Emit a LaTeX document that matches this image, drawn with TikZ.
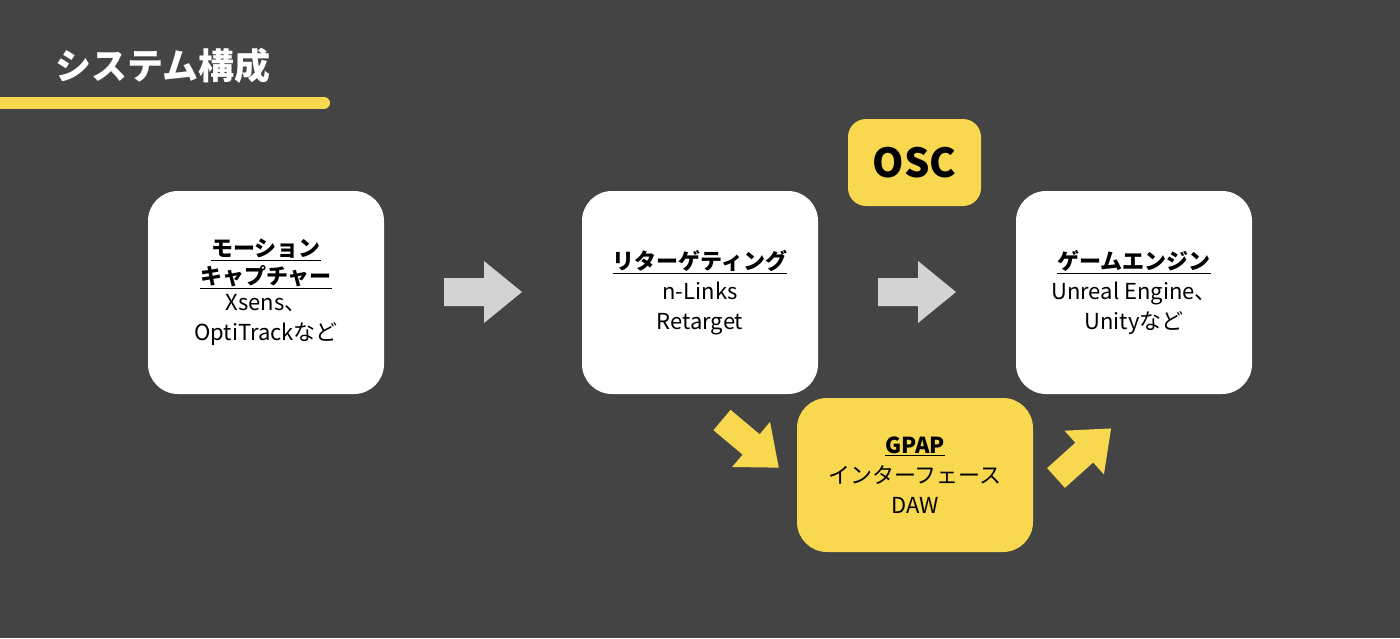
\documentclass[tikz,border=0pt]{standalone}
\usepackage{fontspec}
\setmainfont{Noto Sans CJK JP}
\definecolor{bg}{HTML}{444444}
\definecolor{yel}{HTML}{F7D84E}
\definecolor{gr}{HTML}{D3D3D3}
\begin{document}
\begin{tikzpicture}[x=1pt,y=-1pt,
  box/.style={fill=white,rounded corners=30pt,minimum width=236pt,minimum height=203pt,inner sep=0pt,align=center,font=\fontsize{22}{32}\selectfont},
  ybox/.style={box,fill=yel}]
\fill[bg] (0,0) rectangle (1400,638);
\useasboundingbox (0,0) rectangle (1400,638);
\node[anchor=west,text=white,font=\fontsize{36}{40}\selectfont\bfseries] (title) at (52,66) {システム構成};
\draw[yel,line width=12pt,line cap=round] (-10,103) -- (324,103);
\node[box] (mc) at (266,292.5) {\underline{\textbf{モーション}}\\[-4pt]\underline{\textbf{キャプチャー}}\\[-6pt]Xsens、\\[-2pt]OptiTrackなど};
\node[box] (rt) at (700,292.5) {\underline{\textbf{リターゲティング}}\\[-2pt]n-Links\\[-2pt]Retarget};
\node[box] (ge) at (1134,292.5) {\underline{\textbf{ゲームエンジン}}\\[-2pt]Unreal Engine、\\[-2pt]Unityなど};
\node[ybox,minimum height=154pt] (gp) at (915,475) {\underline{\textbf{GPAP}}\\[-2pt]インターフェース\\[-2pt]DAW};
\node[ybox,minimum width=133pt,minimum height=87pt,rounded corners=18pt,font=\fontsize{40}{40}\selectfont\bfseries] (osc) at (914.5,162.5) {OSC};
\def\barrow{(0,-14) -- (40,-14) -- (40,-31) -- (78,0) -- (40,31) -- (40,14) -- (0,14) -- cycle}
\coordinate (a1) at (444,292); \coordinate (a2) at (878,292);
\fill[gr,shift={(a1)}] \barrow;
\fill[gr,shift={(a2)}] \barrow;
\coordinate (d1) at (722,420); \coordinate (d2) at (1056,478);
\fill[yel,shift={(d1)},rotate=-40,scale=0.95] \barrow;
\fill[yel,shift={(d2)},rotate=42,scale=0.95] \barrow;
\end{tikzpicture}
\end{document}
